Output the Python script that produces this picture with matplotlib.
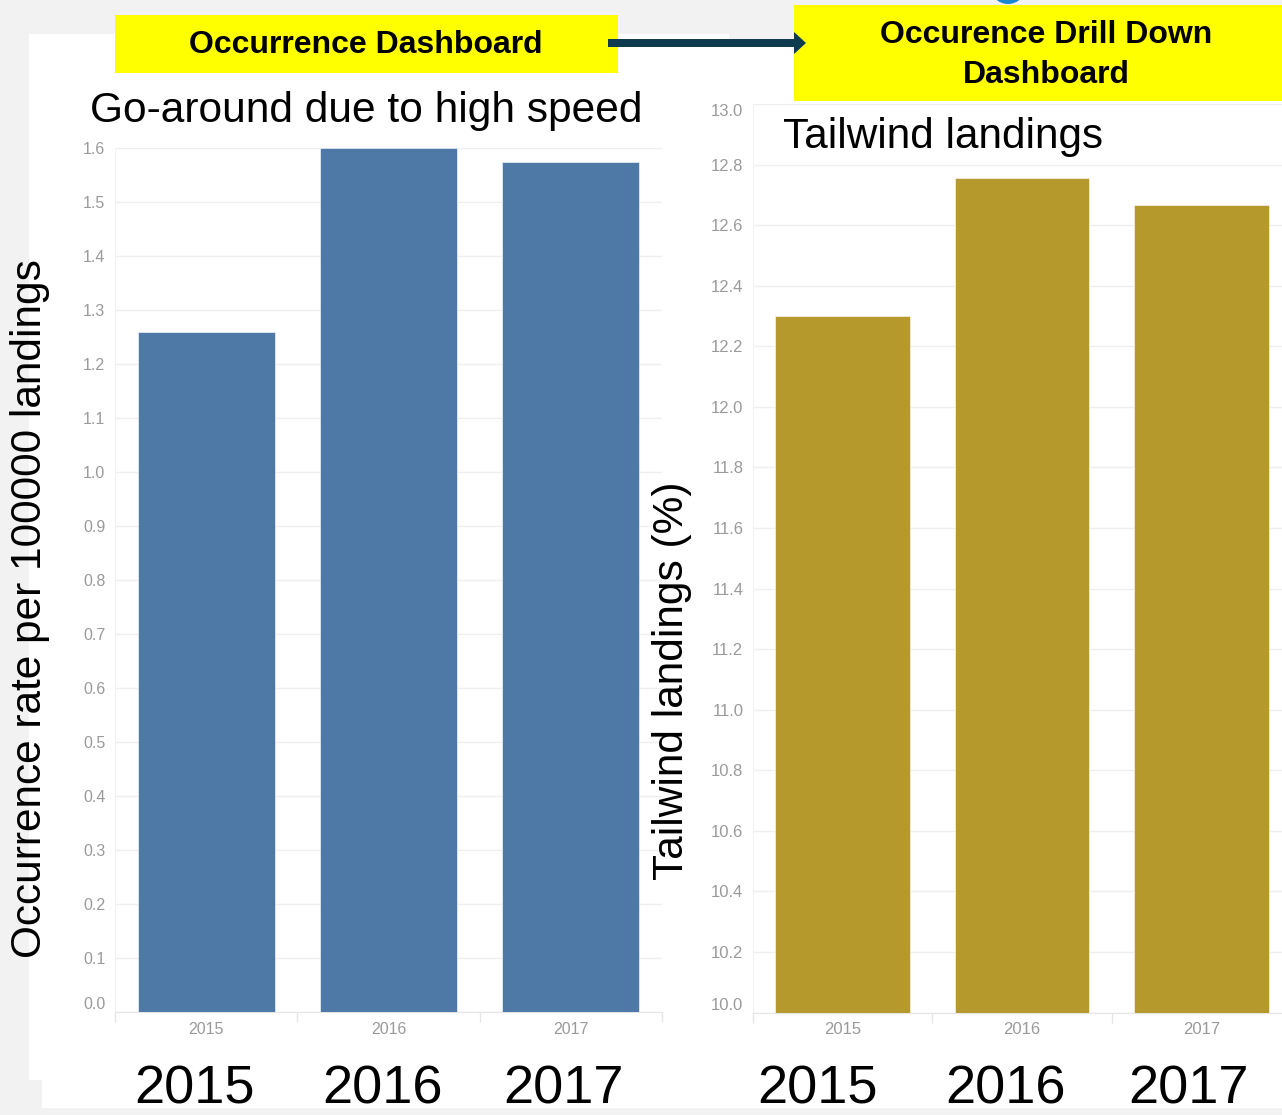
import matplotlib
matplotlib.use("Agg")
import matplotlib.pyplot as plt
from matplotlib import patches

plt.rcParams["font.family"] = ["Liberation Sans", "DejaVu Sans"]

YEARS = ["2015", "2016", "2017"]
GO_AROUND_RATE = [1.26, 1.60, 1.575]          # per 100000 landings
TAILWIND_PCT = [12.30, 12.755, 12.665]        # % of landings
RATE_TICKS = [0.0, 0.1, 0.2, 0.3, 0.4, 0.5, 0.6, 0.7, 0.8, 0.9, 1.0,
              1.1, 1.2, 1.3, 1.4, 1.5, 1.6]
PCT_TICKS = [10.0, 10.2, 10.4, 10.6, 10.8, 11.0, 11.2, 11.4, 11.6, 11.8,
             12.0, 12.2, 12.4, 12.6, 12.8, 13.0]

W, H = 1282, 1115
BLUE = "#4e79a7"; GOLD = "#b6992d"; GRID = "#efefef"; TICK = "#9a9a9a"
YELLOW = "#ffff00"; ARROW = "#0f3b50"; PAGE = "#f2f2f2"
PX = 72 / 100   # points per pixel at dpi 100


def rect(l, t, r, b):
    """pixel box (top-left origin) -> figure fraction rect"""
    return [l / W, 1 - b / H, (r - l) / W, (b - t) / H]


def bar_panel(ax, values, ticks, color, lo, hi, tick_size):
    x = range(len(values))
    ax.bar(x, values, width=0.75, color=color, zorder=3,
           edgecolor="white", linewidth=0.4)
    ax.set_xlim(-0.5, len(values) - 0.5)
    ax.set_ylim(lo, hi)
    ax.set_facecolor("none")
    ax.set_yticks(ticks, labels=["{:.1f}".format(t) for t in ticks])
    ax.set_xticks(list(x), labels=YEARS)
    ax.set_xticks([i - 0.5 for i in range(len(values) + 1)], minor=True)
    ax.tick_params(axis="y", length=0, pad=7, labelsize=tick_size,
                   labelcolor=TICK)
    ax.tick_params(axis="x", which="major", length=0, pad=7,
                   labelsize=tick_size, labelcolor=TICK)
    ax.tick_params(axis="x", which="minor", length=7, color="#e6e6e6",
                   width=1)
    ax.grid(axis="y", color=GRID, lw=1, zorder=0)
    for s in ("top", "right"):
        ax.spines[s].set_visible(False)
    ax.spines["left"].set_color("#f2f2f2")
    ax.spines["bottom"].set_color("#e6e6e6")
    ax.yaxis.get_major_ticks()[0].label1.set_va("bottom")


fig = plt.figure(figsize=(W / 100, H / 100), dpi=100)
fig.patch.set_facecolor(PAGE)

# page backdrop, boxes and arrow live on a pixel-space overlay
bg = fig.add_axes([0, 0, 1, 1], zorder=0)
bg.set_xlim(0, W); bg.set_ylim(H, 0); bg.axis("off")
bg.add_patch(patches.Rectangle((29, 34), 700, 1046, color="white", lw=0))
bg.add_patch(patches.Rectangle((42, 1070), 1240, 38, color="white", lw=0))
bg.add_patch(patches.Rectangle((680, 40), 602, 1040, color="white", lw=0))

top = fig.add_axes([0, 0, 1, 1], zorder=5)
top.set_xlim(0, W); top.set_ylim(H, 0); top.axis("off")
top.add_patch(patches.Circle((1008, -14), 18, color="#1b87d0", lw=0))
top.add_patch(patches.Rectangle((115, 15), 503, 58, color=YELLOW, lw=0))
top.add_patch(patches.Rectangle((794, 5), 488, 96, color=YELLOW, lw=0))
top.text(366, 45, "Occurrence Dashboard", ha="center", va="center",
         fontsize=23, fontweight="bold", color="black")
top.text(1046, 55, "Occurence Drill Down\nDashboard", ha="center",
         va="center", fontsize=23, fontweight="bold", color="black",
         linespacing=1.42)
top.add_patch(patches.FancyArrow(608, 43, 198, 0, width=8, head_width=22,
                                 head_length=12, length_includes_head=True,
                                 color=ARROW, lw=0, zorder=6))

# left: go-around rate
ax1 = fig.add_axes(rect(115, 148, 662, 1012), zorder=2)
bar_panel(ax1, GO_AROUND_RATE, RATE_TICKS, BLUE, 0, 1.6, 11.5)
fig.text(366 / W, 1 - 111 / H, "Go-around due to high speed", ha="center",
         va="center", fontsize=30.6)
fig.text(30 / W, 1 - 609 / H, "Occurrence rate per 100000 landings",
         rotation=90, ha="center", va="center", fontsize=30.5)

# right: tailwind share
ax2 = fig.add_axes(rect(753, 104, 1291, 1012.6), zorder=2)
bar_panel(ax2, TAILWIND_PCT, PCT_TICKS, GOLD, 10, 13, 12)
ax2.yaxis.get_major_ticks()[-1].label1.set_va("top")
fig.text(783 / W, 1 - 137 / H, "Tailwind landings", ha="left",
         va="center", fontsize=30.4)
fig.text(672 / W, 1 - 681 / H, "Tailwind landings (%)", rotation=90,
         ha="center", va="center", fontsize=30.5)

# large year captions under each panel (pixel nudges from bar centres)
CAPTION_SHIFT_L = [-12, -6, -7]
CAPTION_SHIFT_R = [-25, -16, -13]
for ax, shifts in ((ax1, CAPTION_SHIFT_L), (ax2, CAPTION_SHIFT_R)):
    for i, yr in enumerate(YEARS):
        ax.annotate(yr, xy=(i, 0), xycoords=("data", "axes fraction"),
                    xytext=(shifts[i] * PX, -102 * PX),
                    textcoords="offset points", ha="center",
                    va="bottom", fontsize=39, color="black",
                    annotation_clip=False)

fig.savefig("out.png", dpi=100, facecolor=PAGE)
